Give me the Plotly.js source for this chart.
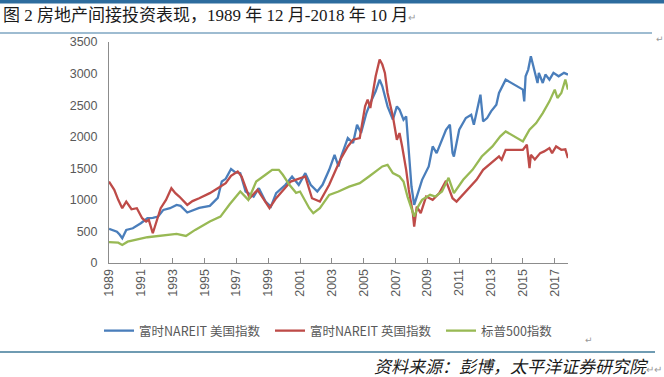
<!DOCTYPE html>
<html>
<head>
<meta charset="utf-8">
<script src="https://cdn.plot.ly/plotly-3.0.1.min.js"></script>
<style>
html,body{margin:0;padding:0;background:#fff;}
#chart{width:664px;height:377px;}
</style>
</head>
<body>
<div id="chart"></div>
<script>
// ---- data ----
const seriesNames = ['富时NAREIT 美国指数', '富时NAREIT 英国指数', '标普500指数'];

const usDates = ['1989-12','1990-03','1990-06','1990-08','1990-10','1991-01','1991-06','1991-12','1992-05','1992-09','1993-01','1993-05','1993-10','1994-03','1994-06','1994-11','1995-04','1995-08','1996-04','1996-10','1997-01','1997-04','1997-08','1997-11','1998-03','1998-07','1999-01','1999-05','1999-10','2000-02','2000-06','2001-01','2001-06','2001-11','2002-04','2002-08','2003-01','2003-05','2003-10','2004-02','2004-05','2004-07','2004-12','2005-04','2005-07','2005-10','2006-02','2006-05','2006-09','2006-12','2007-02','2007-06','2007-10','2008-01','2008-03','2008-06','2008-08','2008-10','2008-12','2009-02','2009-05','2009-08','2010-01','2010-04','2010-07','2010-11','2011-02','2011-05','2011-07','2011-08','2011-12','2012-05','2012-09','2012-11','2013-04','2013-06','2013-09','2013-12','2014-04','2014-06','2014-11','2015-12','2016-01','2016-02','2016-04','2016-06','2016-08','2016-11','2016-12','2017-03','2017-05','2017-08','2017-11','2018-03','2018-07','2018-10'];
const usVals = [540,520,497,450,392,524,550,630,709,714,735,841,868,920,905,800,840,873,905,1031,1290,1333,1490,1440,1423,1132,1052,1185,973,894,1106,1238,1370,1238,1423,1238,1132,1238,1476,1714,1529,1687,1979,1900,2190,2058,2375,2534,2719,2904,2798,2481,2270,2481,2428,2270,2322,1687,1211,920,1132,1317,1529,1846,1740,1952,2111,2190,1741,1687,2111,2296,2349,2190,2666,2243,2296,2402,2507,2693,2904,2746,2560,2957,3063,3274,3115,2851,3011,2851,2984,2904,3011,2957,3011,2984];

const ukDates = ['1989-12','1990-04','1990-07','1990-10','1991-01','1991-05','1991-09','1992-01','1992-04','1992-06','1992-09','1992-12','1993-03','1993-07','1993-11','1994-02','1994-05','1994-11','1995-03','1995-08','1996-04','1996-10','1997-04','1997-08','1998-01','1998-04','1998-10','1999-04','2000-01','2000-06','2001-05','2002-04','2002-09','2003-03','2003-10','2004-03','2004-07','2004-12','2005-04','2005-09','2006-01','2006-03','2006-05','2006-09','2006-12','2007-02','2007-04','2007-06','2007-10','2008-01','2008-03','2008-05','2008-08','2008-10','2009-01','2009-02','2009-04','2009-07','2009-11','2010-04','2010-09','2011-02','2011-07','2011-10','2012-05','2013-01','2013-06','2014-01','2014-06','2014-08','2014-11','2015-12','2016-03','2016-05','2016-06','2016-09','2017-01','2017-04','2017-08','2017-10','2018-01','2018-05','2018-08','2018-10'];
const ukVals = [1290,1158,1000,868,973,851,868,709,656,683,471,656,868,1000,1185,1106,1052,920,980,1026,1106,1185,1264,1380,1449,1370,1026,1158,868,1026,1290,1370,1026,973,1240,1476,1661,1846,1952,1979,2481,2587,2455,2957,3222,3143,3011,2693,2322,1952,2058,1846,1476,1158,789,576,894,789,1052,1000,1106,1300,1026,973,1132,1317,1476,1608,1687,1635,1793,1793,1873,1503,1714,1640,1740,1767,1820,1740,1846,1793,1800,1661];

const spDates = ['1989-12','1990-07','1990-10','1991-02','1992-05','1993-08','1994-03','1994-10','1995-05','1996-04','1996-12','1997-07','1998-03','1998-09','1999-03','1999-10','2000-03','2000-08','2000-11','2001-04','2001-09','2001-12','2002-07','2002-10','2003-03','2003-10','2004-05','2005-01','2005-09','2006-04','2006-09','2007-02','2007-06','2007-10','2008-03','2008-06','2008-09','2008-12','2009-02','2009-05','2009-08','2010-02','2010-06','2010-11','2011-04','2011-08','2012-03','2012-10','2013-05','2014-01','2014-07','2014-11','2015-12','2016-05','2016-10','2017-03','2017-08','2017-12','2018-02','2018-05','2018-08','2018-10'];
const spVals = [330,322,286,338,408,444,460,428,524,656,735,930,1132,1000,1290,1397,1476,1476,1397,1238,1111,1132,868,789,868,1079,1132,1210,1264,1370,1449,1529,1555,1423,1370,1290,1052,841,735,894,1000,1079,1052,1132,1349,1106,1317,1476,1687,1846,2005,2084,1926,2111,2217,2375,2560,2746,2613,2693,2904,2746];

const tickYears = ['1989','1991','1993','1995','1997','1999','2001','2003','2005','2007','2009','2011','2013','2015','2017'];
const yTicks = [0,500,1000,1500,2000,2500,3000,3500];

// ---- layout helpers (pixel -> paper) ----
const L = 109, R = 568, T = 42, B = 263;
const W = 664, H = 377;
const px = x => (x - L) / (R - L);
const py = y => (B - y) / (B - T);

const colors = ['#4a7ebb', '#be4b48', '#98b954'];
const axisGray = '#8c8c8c';
const labelGray = '#595959';

const traces = [
  {x: usDates, y: usVals, name: seriesNames[0]},
  {x: ukDates, y: ukVals, name: seriesNames[1]},
  {x: spDates, y: spVals, name: seriesNames[2]}
].map((t, i) => Object.assign(t, {
  type: 'scatter', mode: 'lines',
  line: {color: colors[i], width: 2.3}
}));

const layout = {
  width: W, height: H,
  margin: {l: L, r: W - R, t: T, b: H - B, pad: 0},
  paper_bgcolor: '#fff', plot_bgcolor: '#fff',
  showlegend: true,
  legend: {
    orientation: 'h', x: px(99), xanchor: 'left', y: py(331), yanchor: 'middle',
    font: {family: 'Noto Sans CJK SC, sans-serif', size: 12.5, color: labelGray},
    entrywidth: 126, entrywidthmode: 'pixels', bgcolor: 'rgba(0,0,0,0)',
    tracegroupgap: 0, itemwidth: 30
  },
  xaxis: {
    type: 'date', range: ['1989-12-01', '2018-10-01'],
    tickvals: tickYears.map(y => y + '-12-01'), ticktext: tickYears,
    tickangle: -90, ticks: 'inside', ticklen: 5, tickcolor: axisGray,
    showline: true, linecolor: axisGray, linewidth: 1,
    showgrid: false, zeroline: false,
    tickfont: {family: 'Liberation Sans, Arial, sans-serif', size: 12.5, color: labelGray}
  },
  yaxis: {
    range: [0, 3500], tickvals: yTicks,
    showline: true, linecolor: axisGray, linewidth: 1,
    showgrid: false, zeroline: false, ticks: '',
    ticklabelstandoff: 8,
    tickfont: {family: 'Liberation Sans, Arial, sans-serif', size: 12.5, color: labelGray}
  },
  shapes: [
    {type: 'rect', xref: 'paper', yref: 'paper', x0: px(0), x1: px(664), y0: py(0), y1: py(3.5),
     fillcolor: '#2d6c9e', line: {width: 0}},
    {type: 'line', xref: 'paper', yref: 'paper', x0: px(0), x1: px(652), y0: py(33), y1: py(33),
     line: {color: '#3f7aa3', width: 1.2}},
    {type: 'line', xref: 'paper', yref: 'paper', x0: px(0), x1: px(655), y0: py(352), y1: py(352),
     line: {color: '#3f7a98', width: 1.5}}
  ],
  annotations: [
    {xref: 'paper', yref: 'paper', x: px(1), y: py(16), xanchor: 'left', yanchor: 'middle', showarrow: false,
     text: '图 2 房地产间接投资表现，1989 年 12 月-2018 年 10 月<span style="font-size:10px;color:#999">↵</span>',
     font: {family: 'Liberation Serif, Noto Sans CJK SC, serif', size: 17, color: '#1a1a1a'}},
    {xref: 'paper', yref: 'paper', x: px(664), y: py(365), xanchor: 'right', yanchor: 'middle', showarrow: false,
     text: '<i>资料来源：彭博，太平洋证券研究院</i><span style="font-size:10px;color:#999">↵↵</span>',
     font: {family: 'Noto Sans CJK SC, sans-serif', size: 17, color: '#1a1a1a'}},
    {xref: 'paper', yref: 'paper', x: px(660), y: py(39), xanchor: 'center', yanchor: 'middle', showarrow: false,
     text: '↵', font: {family: 'DejaVu Sans', size: 9, color: '#999'}},
    {xref: 'paper', yref: 'paper', x: px(589), y: py(340), xanchor: 'center', yanchor: 'middle', showarrow: false,
     text: '↵', font: {family: 'DejaVu Sans', size: 9, color: '#999'}}
  ]
};

Plotly.newPlot('chart', traces, layout, {displayModeBar: false, staticPlot: true});
</script>
</body>
</html>
